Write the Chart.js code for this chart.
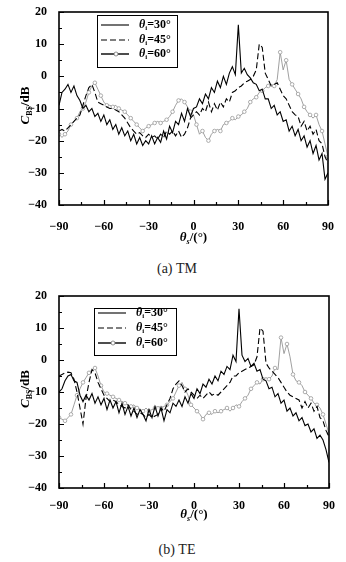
<!DOCTYPE html>
<html>
<head>
<meta charset="utf-8">
<script src="https://cdn.jsdelivr.net/npm/chart.js@4.4.1/dist/chart.umd.min.js"></script>
<style>
  html, body { margin: 0; padding: 0; background: #fff; }
  body { width: 346px; height: 562px; position: relative; overflow: hidden; }
  .panel { position: absolute; left: 0; }
  .caption { position: absolute; font-family: "Liberation Serif", "DejaVu Serif", serif; font-size: 14px; color: #222; white-space: nowrap; transform: translateX(-50%); }
</style>
</head>
<body>
<div class="panel" style="top:0"><canvas id="tm" width="346" height="250"></canvas></div>
<div class="caption" style="left:177px;top:261px">(a)&nbsp;TM</div>
<div class="panel" style="top:283px"><canvas id="te" width="346" height="245"></canvas></div>
<div class="caption" style="left:177px;top:542px">(b)&nbsp;TE</div>

<script>
'use strict';

// scattering angle theta_s (deg)
var angles = [
  -90, -88, -86, -84, -82, -80, -78, -76, -74, -72,
  -70, -68, -66, -64, -62, -60, -58, -56, -54, -52,
  -50, -48, -46, -44, -42, -40, -38, -36, -34, -32,
  -30, -28, -26, -24, -22, -20, -18, -16, -14, -12,
  -10, -8, -6, -4, -2, 0, 2, 4, 6, 8,
  10, 12, 14, 16, 18, 20, 22, 24, 26, 28,
  30, 32, 34, 36, 38, 40, 42, 44, 46, 48,
  50, 52, 54, 56, 58, 60, 62, 64, 66, 68,
  70, 72, 74, 76, 78, 80, 82, 84, 86, 88,
  90
];

// incidence angles theta_i for the three curves
var incidence = ['30', '45', '60'];

var xTicks = [-90, -60, -30, 0, 30, 60, 90];
var yTicks = [-40, -30, -20, -10, 0, 10, 20];

// (a) TM, C_BS in dB
var tm30 = [
  -9, -5, -4, -2.5, -5, -3, -6, -7.5, -10, -9,
  -11, -10, -12.5, -11.5, -14, -12, -15, -13.5, -16.5, -15,
  -18, -16, -18.5, -17, -20, -18, -21, -19, -21.5, -20,
  -21, -18.5, -21, -19, -20.5, -17, -19.5, -15.5, -17.5, -14,
  -15, -11.5, -14, -10, -12.5, -10, -9.5, -7, -8.5, -5.5,
  -7, -3.5, -5, -1.5, -3.5, 0, -2.5, 1, 3, 0.5,
  16, 1, 2.5, 0.5, -0.5, -2, -2.5, -4.5, -4, -7,
  -7, -10, -9, -12, -11, -14, -13.5, -17, -15.5, -18.5,
  -16.5, -20, -18.5, -22, -20, -24, -21.5, -26, -24, -32,
  -30
];
var tm45 = [
  -17, -16.5, -17, -16, -15, -14, -13, -12, -9, -6,
  -3.5, -2.5, -5, -8, -8.5, -9, -9.5, -10, -10, -10.5,
  -11, -12, -13, -14.5, -16, -17, -18, -17.5, -18.5, -19,
  -18, -19, -18.5, -19.5, -18, -19, -17, -18, -17, -18.5,
  -17, -19, -18, -16, -13, -12, -11, -12, -10, -11,
  -8, -11, -8.5, -10.5, -8, -9.5, -7, -8, -5, -4.5,
  -3.5, -3, -2, -1.5, -1, 0, 2, 10, 9, 1,
  -1, -3, -2.5, -2, -4, -6, -7, -9, -11, -12,
  -12.5, -15.5, -14, -17, -15.5, -18, -16.5, -20, -21, -25,
  -27
];
var tm60 = [
  -18, -19, -18, -17, -15, -14, -13, -11, -10, -8,
  -5, -3, -2, -4, -6, -8, -9, -9, -9.5, -9,
  -10, -10.5, -11, -12, -13, -14, -15, -16, -17, -16,
  -15.5, -15, -14.5, -14, -14.5, -14, -13.5, -12.5, -11, -9,
  -7.5, -7, -8, -9.5, -11, -12, -15, -18, -17, -19,
  -20, -18, -17, -16.5, -17, -15, -14.5, -14, -13, -13.5,
  -12.5, -12, -11, -10, -8, -7, -6.5, -5, -4.5, -3.5,
  -3, -2.5, -3, -1, 7.5, 2, 5, -1, -2.5, -4,
  -5.5, -7, -9.5, -11, -12, -13, -12, -15, -17, -21,
  -25
];

// (b) TE, C_BS in dB
var te30 = [
  -10, -9, -6.5, -5, -4.5, -6.5, -7, -11, -13, -11,
  -12.5, -10.5, -13.5, -11.5, -14, -12, -15.5, -12.5, -15, -13,
  -16.5, -13.5, -17, -14.5, -17.5, -15, -18, -15.5, -17, -19,
  -15.5, -18, -14.5, -17.5, -15, -19, -15.5, -16.5, -13.5, -14.5,
  -12.5, -14.5, -11.5, -13.5, -10.5, -12, -9, -10.5, -7.5, -8.5,
  -6, -7.5, -5, -6.5, -3.5, -4.5, -2, -3, 1.5, -0.5,
  16, 1.5, -0.5, 0.5, -2, -1, -3.5, -3, -6, -6.5,
  -9, -8.5, -11.5, -10.5, -13.5, -12.5, -16, -15, -17.5, -16.5,
  -19, -18, -20.5, -20, -22.5, -21.5, -24.5, -23.5, -25, -28,
  -32
];
var te45 = [
  -5, -4.5, -4, -3.8, -4, -6, -10, -15, -20, -12,
  -7, -3, -4, -7, -9, -11, -12, -13, -12.5, -13,
  -14, -14.5, -15, -14, -15.5, -16, -17, -16.5, -17, -18,
  -17, -18, -17.5, -17, -15, -16, -14, -12, -9, -7.5,
  -6.5, -8, -10, -9, -10, -11, -12, -11, -12, -11,
  -10, -11, -10.5, -11, -10, -9, -8, -7, -5, -5,
  -4, -3.5, -3, -2.5, -2, -1.5, 1, 10, 9, -1,
  -2.5, -3.5, -4.5, -5.5, -7, -8.5, -10, -11, -11.5, -12,
  -12.5, -15, -13, -15, -13.5, -16, -14.5, -18, -19, -22,
  -24
];
var te60 = [
  -18, -18.5, -19, -18, -17, -14, -11, -9, -7, -5.5,
  -4, -3, -2.5, -5, -8, -10, -10.5, -11, -11.5, -12,
  -12.5, -13, -13.5, -14, -14.5, -14, -15, -15.5, -16, -15,
  -16, -15.5, -15, -14.5, -15, -14.5, -14, -13, -12, -10,
  -8, -7, -9, -11, -14, -15, -16, -17, -18.5, -17,
  -16.5, -17, -16, -16.5, -16, -15.5, -15, -16, -15, -14,
  -14.5, -13, -12, -11, -9, -8, -7, -7.5, -6, -5.5,
  -6, -5, -2.5, -3, 7, 2, 5, 1, -4.5, -6.5,
  -7, -8, -10, -11, -12, -13.5, -14, -15, -17, -20,
  -23
];

var SERIF = '"Liberation Serif", "DejaVu Serif", serif';

// line look of each curve: solid, dashed, solid with open circles
var looks = [
  { color: '#000', width: 1.1, dash: [], marker: false },
  { color: '#000', width: 1.1, dash: [6, 3], marker: false },
  { color: '#888', width: 0.8, dash: [], marker: true }
];

function minus(v) {
  return String(v).replace('-', '\u2212');
}

// draw text pieces one after another, [text, font, dy]
function drawRuns(ctx, runs, x, y, centered) {
  var total = 0;
  runs.forEach(function (r) { ctx.font = r[1]; total += ctx.measureText(r[0]).width; });
  var cx = centered ? x - total / 2 : x;
  runs.forEach(function (r) {
    ctx.font = r[1];
    ctx.fillText(r[0], cx, y + (r[2] || 0));
    cx += ctx.measureText(r[0]).width;
  });
}

var decor = {
  id: 'decor',
  afterDraw: function (chart) {
    var ctx = chart.ctx, a = chart.chartArea, o = chart.options.plugins.decor;
    var xs = chart.scales.x, ys = chart.scales.y;
    ctx.save();
    ctx.strokeStyle = '#000';
    ctx.fillStyle = '#000';

    // frame
    ctx.lineWidth = 1.6;
    ctx.strokeRect(a.left, a.top, a.right - a.left, a.bottom - a.top);

    // inward ticks, minor ones halfway
    ctx.lineWidth = 1.2;
    ctx.beginPath();
    for (var v = -90; v <= 90; v += 15) {
      var px = Math.round(xs.getPixelForValue(v)) + 0.5;
      var len = v % 30 === 0 ? 5 : 3;
      ctx.moveTo(px, a.bottom); ctx.lineTo(px, a.bottom - len);
    }
    for (var w = -40; w <= 20; w += 5) {
      var py = Math.round(ys.getPixelForValue(w)) + 0.5;
      var l2 = w % 10 === 0 ? 5 : 3;
      ctx.moveTo(a.left, py); ctx.lineTo(a.left + l2, py);
    }
    ctx.stroke();

    // axis titles
    ctx.textBaseline = 'middle';
    var big = 'bold 13px ' + SERIF, bigI = 'italic bold 13px ' + SERIF, sub = 'bold 8px ' + SERIF;
    drawRuns(ctx, [['\u03b8', bigI], ['s', 'italic ' + sub, 4], ['/(\u00b0)', big]],
      (a.left + a.right) / 2, a.bottom + o.xTitle, true);
    ctx.save();
    ctx.translate(26, (a.top + a.bottom) / 2 - 3);
    ctx.rotate(-Math.PI / 2);
    drawRuns(ctx, [['C', bigI], ['BS', sub, 4], ['/dB', big]], 0, 0, true);
    ctx.restore();

    // legend box
    var b = o.box;
    ctx.lineWidth = 1;
    ctx.strokeRect(b[0] + 0.5, b[1] + 0.5, b[2] - b[0], b[3] - b[1]);
    chart.data.datasets.forEach(function (ds, k) {
      var y = o.rows[k];
      var lk = looks[k];
      ctx.save();
      ctx.strokeStyle = '#000';
      ctx.lineWidth = lk.marker ? 1.4 : 1.1;
      ctx.setLineDash(lk.dash);
      ctx.beginPath();
      ctx.moveTo(b[0] + 4, y); ctx.lineTo(b[0] + 32, y);
      ctx.stroke();
      if (lk.marker) {
        ctx.setLineDash([]);
        ctx.fillStyle = '#fff';
        ctx.strokeStyle = '#777';
        ctx.lineWidth = 0.8;
        ctx.beginPath();
        ctx.arc(b[0] + 19, y, 2, 0, Math.PI * 2);
        ctx.fill(); ctx.stroke();
      }
      ctx.restore();
      drawRuns(ctx, [['\u03b8', 'italic bold 12px ' + SERIF], ['i', 'bold 7px ' + SERIF, 3],
        ['=' + incidence[k] + '\u00b0', 'bold 12px ' + SERIF]], b[0] + 42, y, false);
    });
    ctx.restore();
  }
};

function makeChart(id, series, o) {
  var datasets = series.map(function (vals, k) {
    var lk = looks[k];
    return {
      label: '\u03b8i=' + incidence[k] + '\u00b0',
      data: angles.map(function (ang, i) { return { x: ang, y: vals[i] }; }),
      borderColor: lk.color,
      borderWidth: lk.width,
      borderDash: lk.dash,
      tension: 0,
      pointRadius: lk.marker ? function (c) { return c.dataIndex % 2 === 0 ? 1.8 : 0; } : 0,
      pointBorderColor: '#999',
      pointBackgroundColor: '#fff',
      pointBorderWidth: 0.8
    };
  });
  var tickFont = { family: SERIF, size: 12, weight: 'bold' };
  return new Chart(document.getElementById(id), {
    type: 'line',
    data: { datasets: datasets },
    options: {
      responsive: false,
      animation: false,
      layout: { padding: { top: o.padTop, right: o.padRight, left: 0, bottom: 0 } },
      plugins: { legend: { display: false }, tooltip: { enabled: false }, decor: o },
      scales: {
        x: {
          type: 'linear', min: -90, max: 90,
          grid: { display: false }, border: { display: false },
          afterBuildTicks: function (s) { s.ticks = xTicks.map(function (v) { return { value: v }; }); },
          afterFit: function (s) { s.height = o.xHeight; },
          ticks: { color: '#000', font: tickFont, padding: o.xPad, maxRotation: 0, callback: minus }
        },
        y: {
          min: -40, max: 20,
          grid: { display: false }, border: { display: false },
          afterBuildTicks: function (s) { s.ticks = yTicks.map(function (v) { return { value: v }; }); },
          afterFit: function (s) { s.width = 59; },
          ticks: { color: '#000', font: tickFont, padding: 4, callback: minus }
        }
      }
    },
    plugins: [decor]
  });
}

makeChart('tm', [tm30, tm45, tm60], {
  padTop: 12, padRight: 18, xHeight: 45, xPad: 7, xTitle: 33,
  box: [97, 15, 177, 67], rows: [25, 40, 54]
});
makeChart('te', [te30, te45, te60], {
  padTop: 13, padRight: 17, xHeight: 40, xPad: 3, xTitle: 27,
  box: [94, 25, 176, 72], rows: [30, 45, 60]
});
</script>
</body>
</html>
